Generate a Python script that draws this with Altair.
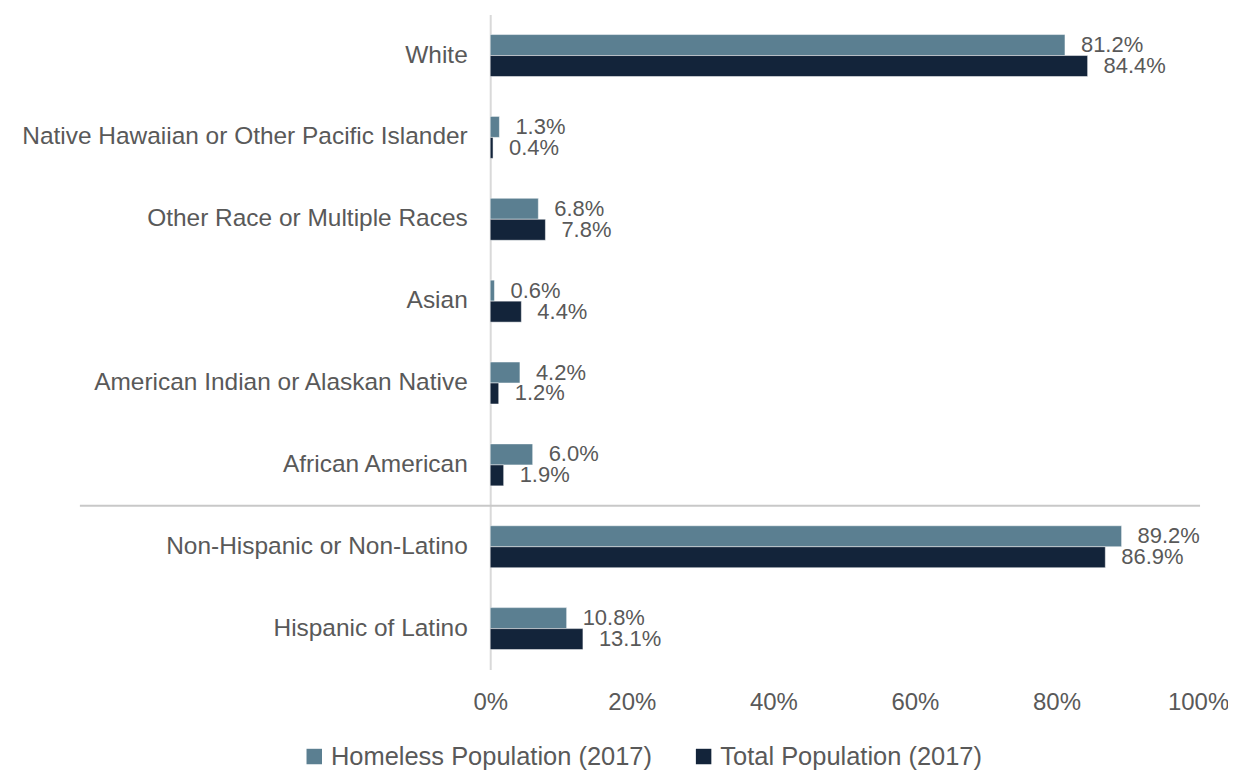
import altair as alt
import pandas as pd

categories = [
    "White",
    "Native Hawaiian or Other Pacific Islander",
    "Other Race or Multiple Races",
    "Asian",
    "American Indian or Alaskan Native",
    "African American",
    "Non-Hispanic or Non-Latino",
    "Hispanic of Latino",
]
homeless = [81.2, 1.3, 6.8, 0.6, 4.2, 6.0, 89.2, 10.8]
total = [84.4, 0.4, 7.8, 4.4, 1.2, 1.9, 86.9, 13.1]
series = ["Homeless Population (2017)", "Total Population (2017)"]
colors = ["#5B7F91", "#13243A"]

rows = []
for c, h, t in zip(categories, homeless, total):
    rows.append({"cat": c, "series": series[0], "value": h / 100})
    rows.append({"cat": c, "series": series[1], "value": t / 100})
df = pd.DataFrame(rows)

FONT = "Liberation Sans"
TXT = "#595959"

y_enc = alt.Y("cat:N", sort=categories, title=None,
              scale=alt.Scale(paddingInner=0, paddingOuter=0),
              axis=alt.Axis(labelFontSize=24.5, labelColor=TXT, labelFont=FONT,
                            ticks=False, domainColor="#D9D9D9", domainWidth=2,
                            labelPadding=23, labelLimit=600))
yoff = alt.YOffset("series:N", sort=series,
                   scale=alt.Scale(paddingInner=0, paddingOuter=0.95))

base = alt.Chart(df)

bars = base.mark_bar(stroke="white", strokeWidth=0.5).encode(
    y=y_enc,
    yOffset=yoff,
    x=alt.X("value:Q", title=None,
            scale=alt.Scale(domain=[0, 1], nice=False),
            axis=alt.Axis(format=".0%", values=[0, 0.2, 0.4, 0.6, 0.8, 1.0],
                          grid=False, ticks=False, domain=False, labelFlush=False,
                          labelFontSize=24, labelColor=TXT, labelFont=FONT,
                          labelPadding=21)),
    color=alt.Color("series:N", sort=series,
                    scale=alt.Scale(domain=series, range=colors),
                    legend=alt.Legend(title=None, orient="none", direction="horizontal",
                                      legendX=-189, legendY=730,
                                      symbolType="square", symbolSize=240,
                                      symbolStrokeWidth=0, symbolOffset=0,
                                      labelOffset=4,
                                      labelFontSize=25.5, labelColor=TXT, labelFont=FONT,
                                      columnPadding=38, labelLimit=500)),
)

labels = base.mark_text(align="left", baseline="middle", dx=16, fontSize=22,
                        font=FONT, color=TXT).encode(
    y=alt.Y("cat:N", sort=categories),
    yOffset=yoff,
    x=alt.X("value:Q"),
    text=alt.Text("value:Q", format=".1%"),
)

sep_df = pd.DataFrame({"cat": ["Non-Hispanic or Non-Latino"]})
sep = alt.Chart(sep_df).mark_rule(color="#C8C8C8", strokeWidth=2).encode(
    y=alt.Y("cat:N", sort=categories, bandPosition=0),
    x=alt.value(-411),
    x2=alt.value(711),
)

chart = alt.layer(bars, labels, sep).properties(
    width=709, height=656,
    autosize=alt.AutoSizeParams(type="none"),
    padding={"left": 483, "top": 6, "right": 30, "bottom": 100},
).configure_view(strokeWidth=0)

chart.save("out.html", embed_options={"renderer": "svg", "actions": False})
